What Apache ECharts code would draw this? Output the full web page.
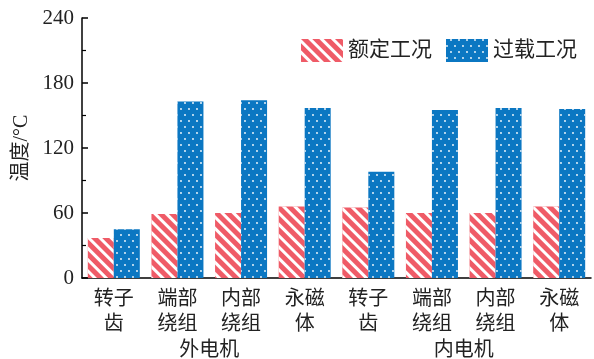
<!DOCTYPE html>
<html>
<head>
<meta charset="utf-8">
<script src="https://cdn.jsdelivr.net/npm/echarts@6/dist/echarts.min.js"></script>
<style>
  html, body { margin: 0; padding: 0; background: #fff; }
  #chart { width: 594px; height: 359px; }
</style>
</head>
<body>
<div id="chart"></div>
<script>
// Component labels along the x axis (outer motor, then inner motor)
const categories = ['转子\n齿', '端部\n绕组', '内部\n绕组', '永磁\n体', '转子\n齿', '端部\n绕组', '内部\n绕组', '永磁\n体'];
const groups = ['外电机', '内电机'];
const seriesNames = ['额定工况', '过载工况'];
// Temperatures in °C
const ratedTemp = [37, 59, 60, 66, 65, 60, 60, 66];
const overloadTemp = [45, 163, 164, 157, 98, 155, 157, 156];
const yTicks = [0, 60, 120, 180, 240];

const FONT = '"Liberation Serif", "Noto Sans CJK SC", serif';
const RED = '#EF5B67';
const BLUE = '#0B77C2';

const chart = echarts.init(document.getElementById('chart'));

const stripeDecal = {
  symbol: 'rect',
  color: 'rgba(255,255,255,1)',
  dashArrayX: [1, 0],
  dashArrayY: [3, 5],
  rotation: Math.PI / 4
};
const dotDecal = {
  symbol: 'circle',
  symbolSize: 0.9,
  color: 'rgba(255,255,255,1)',
  dashArrayX: [[2, 6], [0, 4, 2, 2]],
  dashArrayY: [2, 4]
};

chart.setOption({
  animation: false,
  backgroundColor: '#fff',
  grid: { left: 82, right: 3, top: 18, bottom: 81, containLabel: false, outerBoundsMode: 'none' },
  legend: {
    data: seriesNames,
    icon: 'rect',
    right: 12,
    top: 34,
    itemWidth: 42,
    itemHeight: 23,
    itemGap: 14,
    textStyle: { fontFamily: FONT, fontSize: 21, color: '#222' }
  },
  xAxis: [
    {
      type: 'category',
      data: categories,
      axisLine: { lineStyle: { color: '#000', width: 1.5 } },
      axisTick: { alignWithLabel: true, inside: true, length: 7, lineStyle: { color: '#000', width: 1.5 } },
      axisLabel: { fontFamily: FONT, fontSize: 20, color: '#222', lineHeight: 25, margin: 9, interval: 0 }
    },
    {
      // boundary ticks between categories
      type: 'category',
      data: categories,
      position: 'bottom',
      axisLine: { show: false },
      axisTick: { inside: true, length: 4, lineStyle: { color: '#000', width: 1.2 } },
      axisLabel: { show: false }
    },
    {
      // group names under the component labels
      type: 'category',
      data: groups,
      position: 'bottom',
      offset: 55,
      axisLine: { show: false },
      axisTick: { show: false },
      axisLabel: { fontFamily: FONT, fontSize: 20, color: '#222' }
    }
  ],
  yAxis: {
    type: 'value',
    min: yTicks[0],
    max: yTicks[yTicks.length - 1],
    interval: 60,
    name: '温度/°C',
    nameLocation: 'middle',
    nameGap: 48,
    nameTextStyle: { fontFamily: FONT, fontSize: 20, color: '#222' },
    axisLine: { show: true, lineStyle: { color: '#000', width: 1.5 } },
    axisTick: { show: true, inside: true, length: 6, lineStyle: { color: '#000', width: 1.5 } },
    minorTick: { show: true, splitNumber: 2, length: 4, lineStyle: { color: '#000', width: 1.2 } },
    splitLine: { show: false },
    axisLabel: { fontFamily: FONT, fontSize: 21, color: '#222', margin: 8 }
  },
  series: [
    {
      name: seriesNames[0],
      type: 'bar',
      data: ratedTemp,
      barWidth: 26,
      barGap: '0%',
      itemStyle: { color: RED, decal: stripeDecal }
    },
    {
      name: seriesNames[1],
      type: 'bar',
      data: overloadTemp,
      barWidth: 26,
      barGap: '0%',
      itemStyle: { color: BLUE, decal: dotDecal }
    }
  ]
});
</script>
</body>
</html>
